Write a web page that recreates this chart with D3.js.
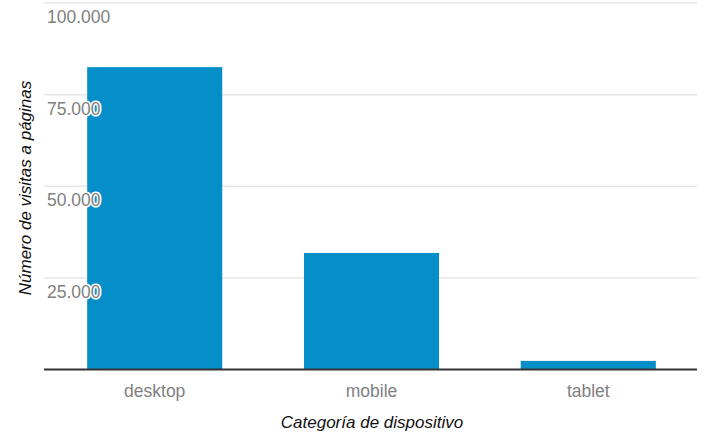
<!DOCTYPE html>
<html>
<head>
<meta charset="utf-8">
<script src="https://cdn.jsdelivr.net/npm/d3@7"></script>
<style>
  body { margin: 0; background: #fff; }
  text { font-family: "Liberation Sans", Arial, sans-serif; }
</style>
</head>
<body>
<script>
var w = 709;
var h = 432;

var categories = ["desktop", "mobile", "tablet"];
var visits = [82500, 31800, 2350];
var yTicks = [25000, 50000, 75000, 100000];

var svg = d3.select("body")
    .append("svg")
    .attr("width", w)
    .attr("height", h);

var x = d3.scaleBand()
    .domain(categories)
    .range([46, 697])
    .paddingInner(0.377)
    .paddingOuter(0.19);

var y = d3.scaleLinear()
    .domain([0, 100000])
    .range([369.5, 3]);

var fmt = function(v) {
    return d3.format(",")(v).replace(/,/g, ".");
};

// gridlines
svg.selectAll("line.grid")
    .data(yTicks)
    .enter()
    .append("line")
    .attr("class", "grid")
    .attr("x1", 44)
    .attr("x2", 697)
    .attr("y1", function(d) { return y(d); })
    .attr("y2", function(d) { return y(d); })
    .attr("stroke", "#e6e6e6")
    .attr("stroke-width", 1.5);

// bars
svg.selectAll("rect")
    .data(categories)
    .enter()
    .append("rect")
    .attr("x", function(d) { return x(d); })
    .attr("width", x.bandwidth())
    .attr("y", function(d, i) { return y(visits[i]); })
    .attr("height", function(d, i) { return y(0) - y(visits[i]); })
    .attr("fill", "#068ec8");

// baseline
svg.append("line")
    .attr("x1", 44)
    .attr("x2", 697)
    .attr("y1", y(0))
    .attr("y2", y(0))
    .attr("stroke", "#333")
    .attr("stroke-width", 2);

// y tick labels, inside the plot with a white halo
svg.selectAll("text.ytick")
    .data(yTicks)
    .enter()
    .append("text")
    .attr("class", "ytick")
    .attr("x", 47)
    .attr("y", function(d) { return y(d) + 20; })
    .attr("font-size", 17.5)
    .attr("fill", "#808080")
    .attr("stroke", "#fff")
    .attr("stroke-width", 3)
    .attr("stroke-linejoin", "round")
    .attr("paint-order", "stroke")
    .text(fmt);

// x tick labels
svg.selectAll("text.xtick")
    .data(categories)
    .enter()
    .append("text")
    .attr("class", "xtick")
    .attr("x", function(d) { return x(d) + x.bandwidth() / 2; })
    .attr("y", 397)
    .attr("text-anchor", "middle")
    .attr("font-size", 17.5)
    .attr("fill", "#808080")
    .text(function(d) { return d; });

// axis titles
svg.append("text")
    .attr("x", 372)
    .attr("y", 428)
    .attr("text-anchor", "middle")
    .attr("font-size", 17)
    .attr("font-style", "italic")
    .attr("fill", "#111")
    .text("Categoría de dispositivo");

svg.append("text")
    .attr("transform", "translate(31,188) rotate(-90)")
    .attr("text-anchor", "middle")
    .attr("font-size", 17)
    .attr("font-style", "italic")
    .attr("fill", "#111")
    .text("Número de visitas a páginas");
</script>
</body>
</html>
